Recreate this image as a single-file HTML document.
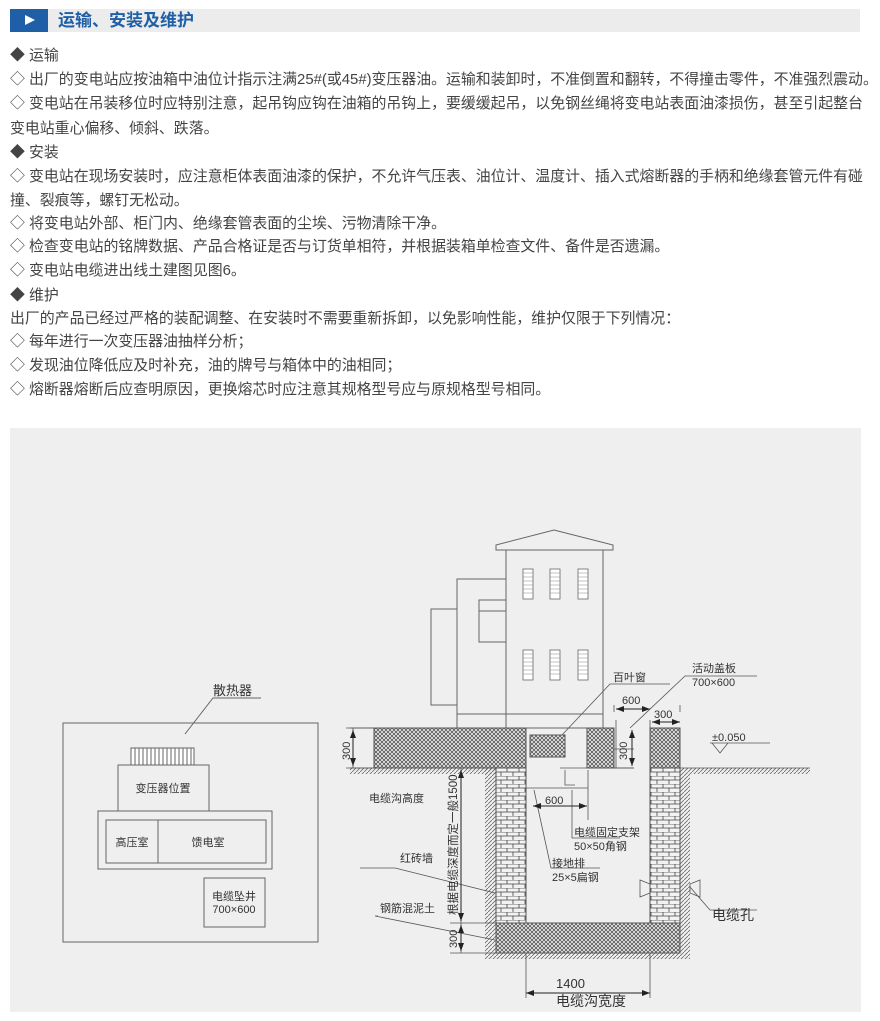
<!DOCTYPE html>
<html><head><meta charset="utf-8"><style>
body{margin:0;width:880px;height:1021px;background:#fff;position:relative;overflow:hidden;font-family:"Liberation Sans","Noto Sans CJK SC",sans-serif;}
.hdr{position:absolute;left:10px;top:9px;width:850px;height:23px;background:#ececec;}
.hdr .b{position:absolute;left:0;top:0;width:38px;height:23px;background:#1f5fa8;}
.hdr .b:after{content:"";position:absolute;left:15px;top:6px;border-left:10px solid #fff;border-top:5.5px solid transparent;border-bottom:5.5px solid transparent;}
.hdr .t{position:absolute;left:48px;top:1px;font-size:17px;font-weight:bold;color:#1f5fa8;line-height:21px;}
.l{position:absolute;left:10px;font-size:14.9px;color:#444;white-space:nowrap;line-height:18px;}
.panel{position:absolute;left:10px;top:428px;width:851px;height:584px;background:#efefef;}
</style></head><body>
<div class="hdr"><div class="b"></div><div class="t">运输、安装及维护</div></div>
<div class="l" style="top:47px">◆ 运输</div>
<div class="l" style="top:71px">◇ 出厂的变电站应按油箱中油位计指示注满25#(或45#)变压器油。运输和装卸时，不准倒置和翻转，不得撞击零件，不准强烈震动。</div>
<div class="l" style="top:95px">◇ 变电站在吊装移位时应特别注意，起吊钩应钩在油箱的吊钩上，要缓缓起吊，以免钢丝绳将变电站表面油漆损伤，甚至引起整台</div>
<div class="l" style="top:120px">变电站重心偏移、倾斜、跌落。</div>
<div class="l" style="top:144px">◆ 安装</div>
<div class="l" style="top:168px">◇ 变电站在现场安装时，应注意柜体表面油漆的保护，不允许气压表、油位计、温度计、插入式熔断器的手柄和绝缘套管元件有碰</div>
<div class="l" style="top:192px">撞、裂痕等，螺钉无松动。</div>
<div class="l" style="top:215px">◇ 将变电站外部、柜门内、绝缘套管表面的尘埃、污物清除干净。</div>
<div class="l" style="top:238px">◇ 检查变电站的铭牌数据、产品合格证是否与订货单相符，并根据装箱单检查文件、备件是否遗漏。</div>
<div class="l" style="top:262px">◇ 变电站电缆进出线土建图见图6。</div>
<div class="l" style="top:287px">◆ 维护</div>
<div class="l" style="top:310px">出厂的产品已经过严格的装配调整、在安装时不需要重新拆卸，以免影响性能，维护仅限于下列情况：</div>
<div class="l" style="top:333px">◇ 每年进行一次变压器油抽样分析；</div>
<div class="l" style="top:357px">◇ 发现油位降低应及时补充，油的牌号与箱体中的油相同；</div>
<div class="l" style="top:381px">◇ 熔断器熔断后应查明原因，更换熔芯时应注意其规格型号应与原规格型号相同。</div>
<div class="panel"></div>
<svg style="position:absolute;left:0;top:0" width="880" height="1021" font-family="Liberation Sans, Noto Sans CJK SC, sans-serif">
<defs>
<pattern id="x" width="4" height="4" patternUnits="userSpaceOnUse"><rect width="4" height="4" fill="#e8e8e8"/><path d="M0 0L4 4M4 0L0 4" stroke="#444" stroke-width="0.7"/></pattern>
<pattern id="br" width="12" height="8" patternUnits="userSpaceOnUse"><rect width="12" height="8" fill="#f2f2f2"/><path d="M0 0H12M0 4H12M3 0V4M9 4V8" stroke="#444" stroke-width="0.8"/></pattern>
<pattern id="h" width="4" height="4" patternUnits="userSpaceOnUse"><path d="M0 4L4 0" stroke="#555" stroke-width="0.7"/></pattern>
<marker id="a" markerWidth="8" markerHeight="6" refX="8" refY="3" orient="auto-start-reverse" markerUnits="userSpaceOnUse"><path d="M0 0L8 3L0 6Z" fill="#222"/></marker>
</defs>
<g fill="none" stroke="#666" stroke-width="1">
<rect x="63" y="723" width="255" height="219"/>
<rect x="131" y="748" width="63" height="17" fill="#fff"/>
<path d="M135 748V765M139 748V765M143 748V765M147 748V765M151 748V765M155 748V765M159 748V765M163 748V765M167 748V765M171 748V765M175 748V765M179 748V765M183 748V765M187 748V765M191 748V765"/>
<rect x="118" y="765" width="91" height="46"/>
<rect x="98" y="811" width="174" height="58"/>
<rect x="106" y="820" width="160" height="43"/>
<path d="M158 820V863"/>
<rect x="204" y="878" width="61" height="49"/>
<path d="M185 734L213 698H261"/>
<path d="M496 550V545L554 530L613 545V550Z"/>
<rect x="506" y="550" width="97" height="178"/>
<rect x="457" y="579" width="49" height="149"/>
<rect x="431" y="609" width="26" height="96"/>
<rect x="479" y="600" width="27" height="42"/><path d="M479 611H506M457 714H603"/>
</g>
<g fill="#fff" stroke="#666" stroke-width="0.8">
<rect x="523" y="569" width="10" height="30"/><rect x="550" y="569" width="10" height="30"/><rect x="578" y="569" width="10" height="30"/>
<rect x="523" y="650" width="10" height="30"/><rect x="550" y="650" width="10" height="30"/><rect x="578" y="650" width="10" height="30"/>
</g>
<g stroke="#888" stroke-width="0.6">
<path d="M523 573h10M523 577h10M523 581h10M523 585h10M523 589h10M523 593h10M550 573h10M550 577h10M550 581h10M550 585h10M550 589h10M550 593h10M578 573h10M578 577h10M578 581h10M578 585h10M578 589h10M578 593h10"/>
<path d="M523 654h10M523 658h10M523 662h10M523 666h10M523 670h10M523 674h10M550 654h10M550 658h10M550 662h10M550 666h10M550 670h10M550 674h10M578 654h10M578 658h10M578 662h10M578 666h10M578 670h10M578 674h10"/>
</g>
<rect x="350" y="768" width="146" height="6" fill="url(#h)"/>
<rect x="690" y="768" width="120" height="6" fill="url(#h)"/>
<rect x="485" y="768" width="11" height="185" fill="url(#h)"/>
<rect x="680" y="768" width="10" height="185" fill="url(#h)"/>
<rect x="485" y="953" width="205" height="6" fill="url(#h)"/>
<g stroke="#555" stroke-width="1">
<rect x="374" y="728" width="152" height="40" fill="url(#x)"/>
<rect x="530" y="735" width="35" height="22" fill="url(#x)"/>
<rect x="587" y="728" width="27" height="40" fill="url(#x)"/>
<rect x="650" y="728" width="30" height="40" fill="url(#x)"/>
<rect x="496" y="768" width="30" height="155" fill="url(#br)"/>
<rect x="650" y="768" width="30" height="155" fill="url(#br)"/>
<rect x="496" y="923" width="184" height="30" fill="url(#x)"/>
</g>
<g fill="none" stroke="#555" stroke-width="0.8">
<path d="M350 768H496M680 768H810M560 768H634M350 728H374"/>
<path d="M562 735L610 684H670M630 728L685 676H757"/>
<path d="M710 743H770M712 743L720 753L728 743"/>
<path d="M565 770V785H575M525 788H588M588 770V820"/>
<path d="M616 768V720M650 768V720M614 712V705M680 712V705"/>
<path d="M614 749H634M614 768H634"/>
<path d="M461 768V923M461 953V923M450 923H496M450 953H496M353 728V768M346 728H374M346 768H374"/>
<path d="M526 953V998M650 953V998"/>
<path d="M572 790L572 838H620M534 790L551 868H600"/>
<path d="M395 868L495 893M375 916L495 940M360 868H395M375 916H378"/>
<path d="M690 887L710 910H757"/>
<path d="M640 880V897L650 893V884ZM700 880V897L690 893V884Z"/>
</g>
<g stroke="#222" stroke-width="1" fill="none">
<path d="M533 806H587" marker-start="url(#a)" marker-end="url(#a)"/>
<path d="M526 993H650" marker-start="url(#a)" marker-end="url(#a)"/>
<path d="M461 770V921" marker-start="url(#a)" marker-end="url(#a)"/>
<path d="M461 925V951" marker-start="url(#a)" marker-end="url(#a)"/>
<path d="M353 730V766" marker-start="url(#a)" marker-end="url(#a)"/>
<path d="M616 709H650" marker-start="url(#a)" marker-end="url(#a)"/>
<path d="M652 722H680" marker-start="url(#a)" marker-end="url(#a)"/>
<path d="M632 730V766" marker-start="url(#a)" marker-end="url(#a)"/>
</g>
<g fill="#333" font-size="11">
<text x="213" y="695" font-size="13">散热器</text>
<text x="163" y="792" text-anchor="middle">变压器位置</text>
<text x="132" y="846" text-anchor="middle">高压室</text>
<text x="208" y="846" text-anchor="middle">馈电室</text>
<text x="234" y="900" text-anchor="middle">电缆坠井</text>
<text x="234" y="913" text-anchor="middle">700×600</text>
<text x="613" y="681">百叶窗</text>
<text x="692" y="672">活动盖板</text>
<text x="692" y="686">700×600</text>
<text x="622" y="704">600</text>
<text x="654" y="718">300</text>
<text x="712" y="741">±0.050</text>
<text x="545" y="804">600</text>
<text x="574" y="836">电缆固定支架</text>
<text x="574" y="850">50×50角钢</text>
<text x="552" y="867">接地排</text>
<text x="552" y="881">25×5扁钢</text>
<text x="369" y="802">电缆沟高度</text>
<text x="400" y="862">红砖墙</text>
<text x="380" y="912">钢筋混泥土</text>
<text x="712" y="920" font-size="14">电缆孔</text>
<text x="556" y="988" font-size="13">1400</text>
<text x="556" y="1006" font-size="14">电缆沟宽度</text>
<text transform="translate(627,760) rotate(-90)">300</text>
<text transform="translate(350,760) rotate(-90)">300</text>
<text transform="translate(457,948) rotate(-90)">300</text>
<text transform="translate(457,915) rotate(-90)" font-size="11.5">根据电缆深度而定一般1500</text>
</g>
</svg>
</body></html>
